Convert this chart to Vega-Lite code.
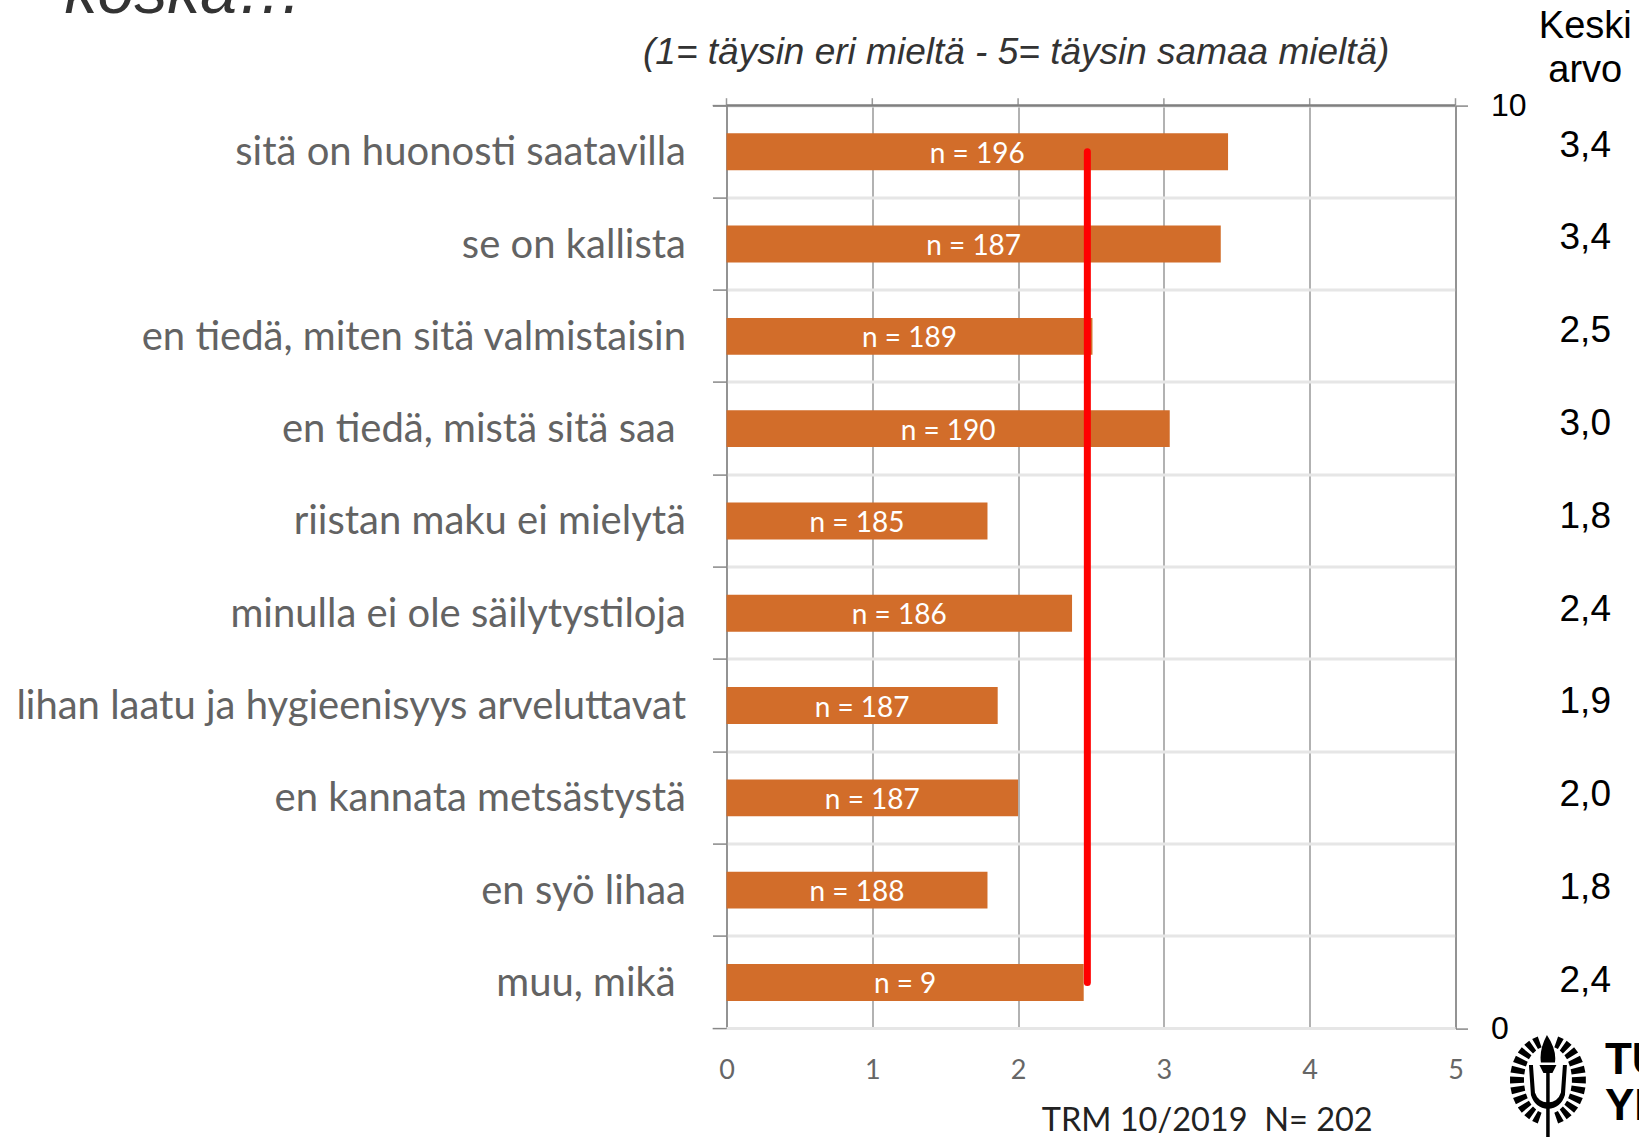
{"$schema":"https://vega.github.io/schema/vega-lite/v6.json","width":729,"height":923,"autosize":{"type":"none"},"padding":{"left":726.5,"top":105.6,"right":183.5,"bottom":108.4},"background":"white","config":{"view":{"stroke":null}},
"datasets":{"rows":[
{"c":"sitä on huonosti saatavilla","v":3.44,"n":"n = 196","m":"3,4"},
{"c":"se on kallista","v":3.39,"n":"n = 187","m":"3,4"},
{"c":"en tiedä, miten sitä valmistaisin","v":2.51,"n":"n = 189","m":"2,5"},
{"c":"en tiedä, mistä sitä saa\u00a0\u200b","v":3.04,"n":"n = 190","m":"3,0"},
{"c":"riistan maku ei mielytä","v":1.79,"n":"n = 185","m":"1,8"},
{"c":"minulla ei ole säilytystiloja","v":2.37,"n":"n = 186","m":"2,4"},
{"c":"lihan laatu ja hygieenisyys arveluttavat","v":1.86,"n":"n = 187","m":"1,9"},
{"c":"en kannata metsästystä","v":2.0,"n":"n = 187","m":"2,0"},
{"c":"en syö lihaa","v":1.79,"n":"n = 188","m":"1,8"},
{"c":"muu, mikä\u00a0\u200b","v":2.45,"n":"n = 9","m":"2,4"}],
"red":[{"c":"sitä on huonosti saatavilla","x":2.475},{"c":"muu, mikä\u00a0\u200b","x":2.475}],
"ticks":[{"t":0},{"t":1},{"t":2},{"t":3},{"t":4},{"t":5}]},
"resolve":{"scale":{"y":"independent"},"axis":{"x":"independent","y":"independent"}},
"layer":[
{"data":{"name":"rows"},"mark":{"type":"bar","color":"#D26D2A","height":{"band":0.4}},
"encoding":{
"x":{"field":"v","type":"quantitative","scale":{"domain":[0,5],"nice":false},"axis":{"values":[0,1,2,3,4,5],"grid":true,"gridColor":"#999999","gridWidth":1.5,"domain":false,"ticks":false,"labelColor":"#666666","labelFont":"Lato","labelFontSize":27,"labelPadding":29,"labelFlush":false,"title":null,"zindex":0}},
"y":{"field":"c","type":"nominal","sort":null,"scale":{"paddingInner":0,"paddingOuter":0},"axis":{"orient":"left","bandPosition":0,"title":null,"grid":true,"gridColor":"#E6E6E6","gridWidth":3,"domainColor":"#888888","domainWidth":1.5,"tickColor":"#888888","tickWidth":1.5,"tickSize":14,"labelColor":"#636363","labelFont":"Lato","labelFontSize":40,"labelPadding":27,"labelLimit":800,"labelBaseline":"middle","labelOffset":1.5}}}},
{"data":{"name":"rows"},"transform":[{"calculate":"datum.v/2","as":"mid"}],"mark":{"type":"text","color":"white","font":"Lato","fontSize":28,"baseline":"middle"},
"encoding":{"x":{"field":"mid","type":"quantitative","axis":null},"y":{"field":"c","type":"nominal","sort":null,"axis":null,"scale":{"domain":["sitä on huonosti saatavilla","se on kallista","en tiedä, miten sitä valmistaisin","en tiedä, mistä sitä saa\u00a0\u200b","riistan maku ei mielytä","minulla ei ole säilytystiloja","lihan laatu ja hygieenisyys arveluttavat","en kannata metsästystä","en syö lihaa","muu, mikä\u00a0\u200b"]}},"yOffset":{"value":3},"text":{"field":"n"}}},
{"data":{"name":"red"},"mark":{"type":"line","color":"#FF0000","strokeWidth":7,"strokeCap":"round"},
"encoding":{"x":{"field":"x","type":"quantitative","axis":null},"y":{"field":"c","type":"nominal","sort":null,"axis":null,"scale":{"domain":["sitä on huonosti saatavilla","se on kallista","en tiedä, miten sitä valmistaisin","en tiedä, mistä sitä saa\u00a0\u200b","riistan maku ei mielytä","minulla ei ole säilytystiloja","lihan laatu ja hygieenisyys arveluttavat","en kannata metsästystä","en syö lihaa","muu, mikä\u00a0\u200b"]}}}},
{"data":{"name":"rows"},"mark":{"type":"text","color":"black","font":"Liberation Sans","fontSize":37,"baseline":"middle"},
"encoding":{"x":{"datum":5.89,"type":"quantitative","axis":null},"y":{"field":"c","type":"nominal","sort":null,"axis":null,"scale":{"range":[-6.5,921.7],"domain":["sitä on huonosti saatavilla","se on kallista","en tiedä, miten sitä valmistaisin","en tiedä, mistä sitä saa\u00a0\u200b","riistan maku ei mielytä","minulla ei ole säilytystiloja","lihan laatu ja hygieenisyys arveluttavat","en kannata metsästystä","en syö lihaa","muu, mikä\u00a0\u200b"]}},"text":{"field":"m"}}},
{"data":{"name":"ticks"},"mark":{"type":"rule","color":"#999999","strokeWidth":1.5},
"encoding":{"x":{"field":"t","type":"quantitative","axis":null},"y":{"datum":10,"type":"quantitative","scale":{"domain":[0,10]},"axis":{"orient":"right","values":[0,10],"title":null,"domainColor":"#888888","domainWidth":1.5,"tickColor":"#888888","tickWidth":1.5,"tickSize":12,"labelColor":"black","labelFont":"Liberation Sans","labelFontSize":32,"labelPadding":23,"labelAlign":"left","grid":false}},"y2":{"datum":10.08}}},
{"data":{"values":[{"a":0,"b":5,"p":10}]},"mark":{"type":"rule","color":"#808080","strokeWidth":2.5},
"encoding":{"x":{"field":"a","type":"quantitative","axis":null},"x2":{"field":"b"},"y":{"field":"p","type":"quantitative","scale":{"domain":[0,10]},"axis":null}}},
{"data":{"values":[{"a":0,"b":5,"p":0}]},"mark":{"type":"rule","color":"#E6E6E6","strokeWidth":3},
"encoding":{"x":{"field":"a","type":"quantitative","axis":null},"x2":{"field":"b"},"y":{"field":"p","type":"quantitative","scale":{"domain":[0,10]},"axis":null}}},
{"data":{"values":[{"a":-0.095,"b":0,"p":0},{"a":-0.095,"b":0,"p":10}]},"mark":{"type":"rule","color":"#888888","strokeWidth":1.5},
"encoding":{"x":{"field":"a","type":"quantitative","axis":null},"x2":{"field":"b"},"y":{"field":"p","type":"quantitative","scale":{"domain":[0,10]},"axis":null}}},
{"data":{"values":[{"s":"koska…"}]},"mark":{"type":"text","font":"Liberation Sans","fontStyle":"italic","fontSize":66,"color":"#333333","align":"left","baseline":"alphabetic"},
"encoding":{"x":{"datum":-4.54,"type":"quantitative","axis":null},"y":{"datum":11.0,"type":"quantitative","scale":{"domain":[0,10]},"axis":null},"text":{"field":"s"}}},
{"data":{"values":[{"s":"(1= täysin eri mieltä - 5= täysin samaa mieltä)"}]},"mark":{"type":"text","font":"Liberation Sans","fontStyle":"italic","fontSize":37,"color":"#333333","baseline":"middle"},
"encoding":{"x":{"datum":1.987,"type":"quantitative","axis":null},"y":{"datum":10.57,"type":"quantitative","scale":{"domain":[0,10]},"axis":null},"text":{"field":"s"}}},
{"data":{"values":[{"s":"Keski","p":10.85},{"s":"arvo","p":10.38}]},"mark":{"type":"text","font":"Liberation Sans","fontSize":38,"color":"black","baseline":"middle"},
"encoding":{"x":{"datum":5.89,"type":"quantitative","axis":null},"y":{"field":"p","type":"quantitative","scale":{"domain":[0,10]},"axis":null},"text":{"field":"s"}}},
{"data":{"values":[{"s":"TRM 10/2019\u00a0\u00a0N= 202"}]},"mark":{"type":"text","font":"Lato","fontSize":32.5,"color":"#222222","baseline":"middle"},
"encoding":{"x":{"datum":3.297,"type":"quantitative","axis":null},"y":{"datum":-1.0,"type":"quantitative","scale":{"domain":[0,10]},"axis":null},"text":{"field":"s"}}},
{"data":{"values":[{"s":"TU","p":-0.351},{"s":"YL","p":-0.85}]},"mark":{"type":"text","font":"Liberation Sans","fontWeight":"bold","fontSize":44,"color":"black","align":"left","baseline":"middle"},
"encoding":{"x":{"datum":6.025,"type":"quantitative","axis":null},"y":{"field":"p","type":"quantitative","scale":{"domain":[0,10]},"axis":null},"text":{"field":"s"}}},
{"data":{"values":[{"logo":"Tampereen yliopisto"}]},"mark":{"type":"point","filled":true,"opacity":1,"size":10000,"color":"black","strokeWidth":0,
"shape":"M.128 -.656L.203 -.868L.315 -.819L.199 -.619ZM.236 -.592L.374 -.783L.473 -.705L.299 -.532ZM.33 -.493L.523 -.653L.603 -.548L.381 -.414ZM.405 -.365L.641 -.483L.697 -.359L.44 -.271ZM.455 -.216L.72 -.285L.749 -.149L.473 -.112ZM.479 -.053L.758 -.07L.758 .07L.479 .053ZM.473 .112L.749 .149L.72 .285L.455 .216ZM.44 .271L.697 .359L.641 .483L.405 .365ZM.381 .414L.603 .548L.523 .653L.33 .493ZM.299 .532L.473 .705L.374 .783L.236 .592ZM.199 .619L.315 .819L.203 .868L.128 .656ZM-.128 -.656L-.203 -.868L-.315 -.819L-.199 -.619ZM-.236 -.592L-.374 -.783L-.473 -.705L-.299 -.532ZM-.33 -.493L-.523 -.653L-.603 -.548L-.381 -.414ZM-.405 -.365L-.641 -.483L-.697 -.359L-.44 -.271ZM-.455 -.216L-.72 -.285L-.749 -.149L-.473 -.112ZM-.479 -.053L-.758 -.07L-.758 .07L-.479 .053ZM-.473 .112L-.749 .149L-.72 .285L-.455 .216ZM-.44 .271L-.697 .359L-.641 .483L-.405 .365ZM-.381 .414L-.603 .548L-.523 .653L-.33 .493ZM-.299 .532L-.473 .705L-.374 .783L-.236 .592ZM-.199 .619L-.315 .819L-.203 .868L-.128 .656ZM-.38 -.3L-.3 -.3L-.26 .25Q-.2 .44 0 .45Q.2 .44 .26 .25L.3 -.3L.38 -.3L.34 .3Q.26 .56 0 .58Q-.26 .56 -.34 .3ZM-.17 -.3L.17 -.3L.09 -.14L-.09 -.14ZM-.035 -.2L.035 -.2L.035 1.14L-.035 1.14ZM-.02 -.9Q.18 -.6 .14 -.35L-.14 -.35Q-.18 -.6 -.02 -.9Z"},
"encoding":{"x":{"datum":5.634,"type":"quantitative","axis":null},"y":{"datum":-0.557,"type":"quantitative","scale":{"domain":[0,10]},"axis":null}}}
]}
